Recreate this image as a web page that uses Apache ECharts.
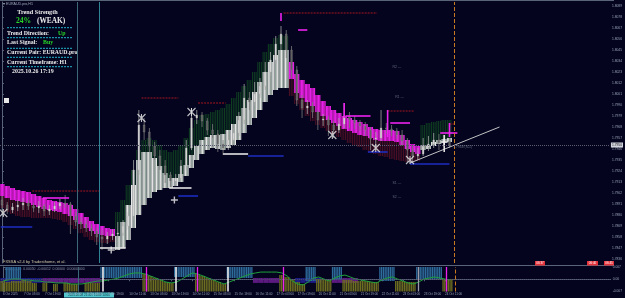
<!DOCTYPE html>
<html>
<head>
<meta charset="utf-8">
<title>EURAUD.pro H1</title>
<script src="https://cdn.jsdelivr.net/npm/echarts@6.0.0/dist/echarts.min.js"></script>
<style>
  html, body { margin: 0; padding: 0; background: #04041f; }
  #chart { width: 625px; height: 298px; }
</style>
</head>
<body>
<div id="chart"></div>
<script>
// prices are in pips (1.7950 -> 17950), one sample every 4 H1 bars
const barsPerSample = 4;

const openP = [17895,17890,17885,17888,17890,17892,17889,17887,17889,17884,
  17886,17889,17892,17891,17879,17873,17871,17867,17864,17858,
  17856,17859,17861,17862,17869,17879,17925,17970,17963,17949,
  17939,17929,17920,17914,17917,17929,17947,17977,17980,17974,
  17965,17961,17951,17947,17955,17962,17975,17997,17993,18001,
  18009,18023,18035,18051,18061,18045,18025,17995,17987,17989,
  17983,17975,17976,17970,17965,17971,17979,17975,17972,17969,
  17965,17956,17957,17967,17966,17964,17960,17954,17945,17939,
  17941,17948,17951,17955,17952,17954];
const closeP = [17890,17885,17888,17890,17892,17889,17887,17889,17884,17886,
  17889,17892,17891,17879,17873,17871,17867,17864,17858,17856,
  17859,17861,17862,17869,17879,17925,17970,17963,17949,17939,
  17929,17920,17914,17917,17929,17947,17977,17980,17974,17965,
  17961,17951,17947,17955,17962,17975,17997,17993,18001,18009,
  18023,18035,18051,18061,18045,18025,17995,17987,17989,17983,
  17975,17976,17970,17965,17971,17979,17975,17972,17969,17965,
  17956,17957,17967,17966,17964,17960,17954,17945,17939,17941,
  17948,17951,17955,17952,17954,17950];
const highP = [17899,17893,17892,17895,17897,17895,17892,17894,17891,17890,
  17893,17896,17900,17893,17883,17878,17875,17871,17867,17865,
  17863,17866,17873,17875,17883,17935,17985,17977,17967,17953,
  17945,17935,17923,17921,17935,17955,17987,17985,17983,17977,
  17971,17965,17955,17963,17967,17983,18011,18003,18013,18017,
  18033,18043,18059,18069,18065,18049,18029,18000,17995,17993,
  17985,17981,17979,17974,17977,17992,17983,17979,17975,17973,
  17968,17963,17985,17972,17970,17967,17965,17957,17949,17947,
  17957,17959,17962,17961,17960,17957];
const lowP = [17880,17881,17882,17884,17885,17885,17883,17882,17879,17880,
  17883,17886,17887,17861,17869,17866,17863,17859,17850,17845,
  17851,17855,17857,17859,17865,17875,17920,17955,17943,17935,
  17925,17912,17908,17910,17913,17925,17945,17971,17968,17960,
  17957,17943,17940,17945,17953,17959,17971,17985,17989,17997,
  18005,18019,18031,18045,18037,18017,17989,17977,17981,17977,
  17965,17969,17959,17957,17962,17967,17967,17966,17964,17959,
  17945,17949,17954,17961,17959,17956,17949,17933,17933,17935,
  17939,17944,17947,17945,17948,17947];

// trend ribbon: outer edge, inner edge, other outer edge; 1 = up, -1 = down
const bandTop = [17911,17909,17907,17905,17904,17903,17901,17899,17897,17895,
  17894,17893,17892,17890,17886,17882,17878,17874,17871,17869,
  17867,17866,17883,17895,17910,17925,17945,17955,17957,17955,
  17950,17945,17943,17945,17950,17957,17967,17975,17980,17981,
  17983,17985,17987,17991,17997,18003,18009,18015,18023,18033,
  18043,18051,18057,18060,18059,18033,18021,18015,18011,18007,
  18000,17994,17989,17985,17982,17979,17977,17975,17973,17971,
  17968,17966,17965,17965,17965,17964,17960,17955,17951,17949,
  17970,17972,17973,17974,17975,17975];
const bandMid = [17899,17897,17895,17894,17893,17892,17890,17888,17886,17885,
  17884,17883,17881,17879,17875,17871,17867,17864,17861,17860,
  17859,17859,17859,17873,17890,17910,17935,17943,17943,17937,
  17929,17922,17917,17917,17921,17930,17940,17949,17955,17958,
  17960,17960,17961,17965,17971,17979,17987,17995,18003,18013,
  18023,18033,18040,18045,18045,18016,18002,17997,17993,17989,
  17983,17979,17975,17972,17969,17966,17964,17962,17960,17959,
  17957,17955,17954,17954,17954,17953,17950,17946,17943,17941,
  17950,17950,17953,17955,17956,17957];
const bandBot = [17887,17883,17881,17879,17878,17878,17877,17877,17877,17877,
  17876,17875,17873,17870,17866,17862,17858,17855,17853,17852,
  17852,17853,17845,17847,17855,17867,17880,17890,17897,17903,
  17905,17907,17907,17909,17913,17919,17927,17935,17941,17945,
  17947,17946,17945,17947,17950,17955,17962,17970,17977,17985,
  17993,18000,18005,18007,18007,17999,17991,17985,17979,17974,
  17970,17967,17964,17961,17958,17955,17952,17950,17948,17945,
  17943,17941,17939,17938,17936,17935,17934,17933,17933,17934,
  17945,17946,17949,17951,17952,17953];
const trend = [-1,-1,-1,-1,-1,-1,-1,-1,-1,-1,
  -1,-1,-1,-1,-1,-1,-1,-1,-1,-1,
  -1,-1,1,1,1,1,1,1,1,1,
  1,1,1,1,1,1,1,1,1,1,
  1,1,1,1,1,1,1,1,1,1,
  1,1,1,1,1,-1,-1,-1,-1,-1,
  -1,-1,-1,-1,-1,-1,-1,-1,-1,-1,
  -1,-1,-1,-1,-1,-1,-1,-1,-1,-1,
  1,1,1,1,1,1];

// signal segments (bar index, pips); kind 0 stop, 1 entry, 2 exit, 3 target, 4 trendline
const sigBar1 = [214,106,149,23,31,74,127,134,168,187,-1,225,261,293,295,278,310,333,340,310,212,260,293,340,336];
const sigPip1 = [18082,17997,17992,17904,17897,17847,17907,17899,17941,17939,17868,18065,17979,17984,17972,17943,17931,17962,17971,17932,18082,17992,17985,17972,17960];
const sigBar2 = [285,134,170,74,51,94,144,149,187,214,23,232,280,313,310,293,340,346,344,378,212,260,293,340,336];
const sigPip2 = [18082,17997,17992,17904,17897,17847,17907,17899,17941,17939,17868,18065,17979,17984,17972,17943,17931,17962,17971,17968,18074,17977,17958,17958,17943];
const sigKind = [0,0,0,0,1,2,2,3,2,3,3,1,1,0,1,3,3,1,0,4,1,1,1,1,2];

const crossBar = [1,106,144,251,284,310];
const crossPip = [17882,17977,17983,17960,17947,17935];
const plusBar = [83,131,336];
const plusPip = [17845,17895,17953];

const levelBar = [300,302,300,300,350];
const levelPip = [18028,17998,17912,17898,17948];
const levelText = ['R2 —','R1 —','S1 —','S2 —','1.7948 (S-1)'];

// oscillator pane
const oscLine = [-1.0,-0.4,0.1,0.1,-0.4,-0.4,-1.0,-1.0,-1.6,-1.6,
  -2.1,-2.1,-2.1,-2.7,-2.7,-2.7,-2.1,-1.6,-1.0,-1.0,
  -0.4,0.1,0.7,1.9,3.0,3.6,3.6,3.0,1.9,0.7,
  -0.4,-1.6,-2.1,-1.6,0.1,1.9,3.6,3.0,1.9,0.7,
  -0.4,-1.6,-2.7,-1.6,-0.4,0.7,1.9,3.0,3.6,4.1,
  4.1,4.1,4.1,3.6,1.9,-1.0,-2.7,-3.3,-1.6,0.7,
  1.3,0.1,-1.0,0.7,1.9,2.4,1.3,0.1,-0.4,-1.0,
  -1.6,-2.1,-0.4,0.7,1.3,0.1,-1.0,-2.1,-2.7,-1.6,
  0.1,0.7,1.3,0.7,0.1,-0.4];
const blueLvl = [null,-0.4,-0.4,-0.4,null,null,null,null,null,null,
  null,null,null,null,null,null,null,null,null,0.7,
  0.7,0.7,0.7,0.7,0.7,0.7,0.7,null,null,null,
  null,null,null,1.3,1.3,1.3,1.3,null,null,null,
  null,null,null,0.7,0.7,0.7,0.7,0.7,null,null,
  null,null,null,null,null,null,null,null,-1.0,-1.0,
  null,null,null,-0.4,-0.4,null,null,null,null,null,
  null,null,-1.0,-1.0,-1.0,null,null,null,null,0.1,
  0.1,0.1,0.1,0.1,null,null];
const oliveLvl = [-1.0,-1.6,-1.0,-1.0,-0.4,-1.0,-2.1,null,-2.1,null,
  -2.7,null,-2.1,-2.7,-2.7,null,-2.1,-2.1,-2.1,null,
  null,null,null,null,null,null,null,3.0,1.9,0.7,
  -0.4,-1.6,-2.1,null,null,null,null,3.0,1.9,0.7,
  -0.4,-1.6,-2.7,null,null,null,null,null,null,null,
  null,null,null,2.4,1.3,-0.4,-1.6,-2.7,null,null,
  0.1,0.1,-0.4,null,null,-0.4,-0.4,-1.0,-1.0,-1.0,
  -1.6,-1.6,null,null,null,-1.0,-1.0,-1.6,-1.6,null,
  null,null,null,null,0.1,0.1];
// 0 none, 1 navy, 2 purple strip around the zero line
const midBand = [1,1,1,1,1,1,1,1,2,2,
  2,2,2,2,2,2,2,2,2,0,
  0,0,0,0,0,0,0,0,0,0,
  0,0,0,0,0,0,0,0,0,0,
  0,0,0,0,0,0,0,0,2,2,
  2,2,2,0,0,0,1,1,1,1,
  1,0,0,2,2,2,2,2,0,0,
  0,0,0,0,0,0,0,0,0,0,
  0,0,0,0,0,0];
const subSigBar = [75.5,109,131,148,171,213,316,337];
const subSigKind = ['w','m','w','m','w','m','g','m'];

const labelBars = [0,16,32,48,64,80,96,112,128,144,160,176,192,208,224,240,256,272,288,304,320,336];
const timeLabels = ['6 Oct 2025','7 Oct 03:00','7 Oct 19:00','8 Oct 11:00','9 Oct 03:00','9 Oct 19:00',
  '10 Oct 11:00','13 Oct 03:00','13 Oct 19:00','14 Oct 11:00','15 Oct 03:00','15 Oct 19:00',
  '16 Oct 11:00','17 Oct 03:00','17 Oct 19:00','20 Oct 11:00','21 Oct 03:00','21 Oct 19:00',
  '22 Oct 11:00','23 Oct 03:00','23 Oct 19:00','24 Oct 11:00'];
const priceTicks = [18089,18078,18067,18056,18045,18034,18023,18012,18001,17990,17979,17968,
  17957,17946,17935,17924,17913,17902,17891,17880,17869,17858,17847,17836];
const subTicks = [7, 0, -7];
const subTickLabels = ['0.007', '0.00', '-0.007'];

const axisCol = '#5a6478';
const labelCol = '#9aa4b8';
const sigStyle = [
  { stroke: '#a3161e', lineWidth: 1, lineDash: [2, 1] },
  { stroke: '#ee22ee', lineWidth: 1.6 },
  { stroke: '#e4e4e4', lineWidth: 1.6 },
  { stroke: '#1c2cc0', lineWidth: 1.6 },
  { stroke: '#d8d8d8', lineWidth: 0.9 }
];
const subSigCol = { w: '#e8e8e8', m: '#ee22ee', g: '#9a9aa8' };

const chart = echarts.init(document.getElementById('chart'));

function renderBand(params, api) {
  const b = api.value(0);
  const top = api.coord([b, api.value(1)]);
  const mid = api.coord([b, api.value(2)]);
  const bot = api.coord([b, api.value(3)]);
  const up = api.value(4) > 0;
  const w = api.size([barsPerSample, 0])[0];
  const x0 = top[0] - w / 2;
  const kids = [];
  for (let k = 0; k < 3; k++) {
    kids.push({ type: 'rect',
      shape: { x: x0 + k * w / 3, y: top[1], width: w / 3 * 0.6, height: bot[1] - top[1] },
      style: { fill: up ? '#0f3d20' : '#4c1024' } });
  }
  const y0 = up ? mid[1] : top[1];
  const y1 = up ? bot[1] : mid[1];
  for (let k = 0; k < 4; k++) {
    kids.push({ type: 'rect',
      shape: { x: x0 + k * w / 4, y: y0, width: w / 4 * (up ? 0.8 : 0.95), height: y1 - y0 },
      style: { fill: up ? '#e6e6e6' : '#e61fe6' } });
  }
  return { type: 'group', children: kids };
}

function renderCandle(params, api) {
  const b = api.value(0);
  const o = api.coord([b, api.value(1)]);
  const c = api.coord([b, api.value(2)]);
  const lo = api.coord([b, api.value(3)]);
  const hi = api.coord([b, api.value(4)]);
  const bull = api.value(2) >= api.value(1);
  const bw = 1.6;
  return { type: 'group', children: [
    { type: 'line', shape: { x1: hi[0], y1: hi[1], x2: lo[0], y2: lo[1] },
      style: { stroke: bull ? '#a6a6a6' : '#7a7a7a', lineWidth: 0.8 } },
    { type: 'rect', shape: { x: o[0] - bw / 2, y: Math.min(o[1], c[1]), width: bw,
      height: Math.max(1, Math.abs(o[1] - c[1])) },
      style: { fill: bull ? '#dcdcdc' : '#5a5a5a', stroke: bull ? '#b0b0b0' : '#8a8a8a', lineWidth: 0.4 } }
  ] };
}

function renderSignal(params, api) {
  const i = params.dataIndex;
  const p1 = api.coord([sigBar1[i], sigPip1[i]]);
  const p2 = api.coord([sigBar2[i], sigPip2[i]]);
  return { type: 'line', shape: { x1: p1[0], y1: p1[1], x2: p2[0], y2: p2[1] },
    style: sigStyle[sigKind[i]] };
}

function renderOsc(params, api) {
  const i = params.dataIndex;
  const b = api.value(0);
  const w = api.size([barsPerSample, 0])[0];
  const x0 = api.coord([b, 0])[0] - w / 2;
  const yTop = api.coord([b, 7])[1];
  const yBot = api.coord([b, -7])[1];
  const kids = [];
  if (midBand[i]) {
    const a = api.coord([b, 0.7])[1];
    const c = api.coord([b, -2.1])[1];
    kids.push({ type: 'rect', shape: { x: x0, y: a, width: w, height: c - a },
      style: { fill: midBand[i] === 1 ? '#1c1c82' : '#5c1a80' } });
  }
  for (let k = 0; k < 3; k++) {
    const sx = x0 + k * w / 3;
    if (blueLvl[i] !== null) {
      const yb = api.coord([b, blueLvl[i]])[1];
      kids.push({ type: 'rect', shape: { x: sx, y: yTop, width: w / 3 * 0.75, height: yb - yTop },
        style: { fill: '#2e6c9c' } });
    }
    if (oliveLvl[i] !== null) {
      const yo = api.coord([b, oliveLvl[i]])[1];
      kids.push({ type: 'rect', shape: { x: sx, y: yo, width: w / 3 * 0.75, height: yBot - yo },
        style: { fill: '#6e6e20' } });
    }
  }
  return { type: 'group', children: kids };
}

const bandData = bandTop.map((v, i) => [i * barsPerSample, v, bandMid[i], bandBot[i], trend[i]]);
const candleData = openP.map((v, i) => [i * barsPerSample, v, closeP[i], lowP[i], highP[i]]);
const sigData = sigBar1.map((b, i) => [b, sigPip1[i]]);
const oscData = oscLine.map((v, i) => [i * barsPerSample, v]);
const lastClose = closeP[closeP.length - 1];

function txt(x, y, text, fill, font, align) {
  return { type: 'text', x: x, y: y, silent: true,
    style: { text: text, fill: fill, font: font, align: align || 'left', verticalAlign: 'middle' } };
}
function hline(x1, x2, y, stroke, dash) {
  return { type: 'line', silent: true, shape: { x1: x1, y1: y, x2: x2, y2: y },
    style: { stroke: stroke, lineWidth: 1, lineDash: dash || null } };
}
const serifB = (s) => 'bold ' + s + 'px "Liberation Serif"';

const graphics = [
  hline(0, 614, 0.5, axisCol),
  hline(0, 614, 265.5, axisCol),
  txt(3, 3.5, '▾ EURAUD.pro,H1', '#a0a8b8', '3.6px "Liberation Sans"'),
  txt(37.5, 12.3, 'Trend Strength', '#ececec', serifB(6.2), 'center'),
  txt(16, 20.8, '24%', '#26d626', serifB(7.6)),
  txt(37, 20.8, '(WEAK)', '#ececec', serifB(7.4)),
  hline(7, 73, 27.7, '#22b4c8', [2, 1]),
  txt(7, 33, 'Trend Direction:', '#ececec', serifB(5.9)),
  txt(58, 33, 'Up', '#26d626', serifB(5.9)),
  hline(7, 73, 37.7, '#22b4c8', [2, 1]),
  txt(7, 42.8, 'Last Signal:', '#ececec', serifB(5.9)),
  txt(43, 42.8, 'Buy', '#26d626', serifB(5.9)),
  hline(7, 73, 48.3, '#22b4c8', [2, 1]),
  txt(7, 52.8, 'Current Pair: EURAUD.pro', '#ececec', serifB(5.8)),
  hline(7, 73, 57.3, '#22b4c8', [2, 1]),
  txt(7, 62.3, 'Current Timeframe: H1', '#ececec', serifB(5.8)),
  hline(7, 73, 66.7, '#22b4c8', [2, 1]),
  txt(12, 71.8, '2025.10.26 17:19', '#ececec', serifB(5.9)),
  { type: 'rect', silent: true, shape: { x: 4, y: 98, width: 5, height: 5 }, style: { fill: '#e8e8e8' } },
  txt(3, 262, 'FXSSA v2.4 by Tradesthome, et al.', '#d4cca4', '4px "Liberation Sans"'),
  txt(3, 269.5, '(1,1,4,5,1,2)  0.00050  -0.00012  0.00000  0.00000000', '#8e96a8', '3.4px "Liberation Sans"'),
  { type: 'rect', silent: true, shape: { x: 535, y: 261, width: 10, height: 4.5 }, style: { fill: '#e4323a' } },
  txt(540, 263.3, '06:37', '#ffffff', '3px "Liberation Sans"', 'center'),
  { type: 'rect', silent: true, shape: { x: 587, y: 261, width: 11, height: 4.5 }, style: { fill: '#e4323a' } },
  txt(592.5, 263.3, '06:40', '#ffffff', '3px "Liberation Sans"', 'center'),
  { type: 'rect', silent: true, shape: { x: 604, y: 261, width: 10, height: 4.5 }, style: { fill: '#e4323a' } },
  txt(609, 263.3, '06:45', '#ffffff', '3px "Liberation Sans"', 'center'),
  { type: 'rect', silent: true, shape: { x: 64, y: 292.5, width: 50, height: 5 }, style: { fill: '#52c4cc' } },
  txt(89, 295, '2025.10.08 21:00 / 10.09 14:00', '#0c3440', '3px "Liberation Sans"', 'center')
];

const vLine = (x, color, type, width) => ({ xAxis: x, lineStyle: { color: color, type: type || 'solid', width: width || 1 } });

const option = {
  backgroundColor: '#04041f',
  animation: false,
  graphic: graphics,
  grid: [
    { left: 0, right: 11, top: 2, bottom: 35 },
    { left: 0, right: 11, top: 267, bottom: 6.5 }
  ],
  xAxis: [
    { type: 'value', gridIndex: 0, min: -1.5, max: 461.9, show: false },
    { type: 'value', gridIndex: 1, min: -1.5, max: 461.9,
      axisLine: { show: true, lineStyle: { color: axisCol } },
      splitLine: { show: false },
      axisTick: { show: true, customValues: labelBars, length: 2, lineStyle: { color: axisCol } },
      axisLabel: { customValues: labelBars, align: 'left', margin: 1.5, fontSize: 3,
        fontFamily: 'Liberation Sans', color: labelCol,
        formatter: (v) => timeLabels[labelBars.indexOf(v)] || '' } }
  ],
  yAxis: [
    { type: 'value', gridIndex: 0, position: 'right', min: 17832, max: 18093,
      axisLine: { show: true, lineStyle: { color: axisCol } },
      splitLine: { show: false },
      axisTick: { show: true, customValues: priceTicks, length: 2, lineStyle: { color: axisCol } },
      axisLabel: { customValues: priceTicks, margin: 2, fontSize: 3.3, fontFamily: 'Liberation Sans',
        color: labelCol, formatter: (v) => (v / 10000).toFixed(4) } },
    { type: 'value', gridIndex: 1, position: 'right', min: -7, max: 7,
      axisLine: { show: true, lineStyle: { color: axisCol } },
      splitLine: { show: false },
      axisTick: { show: true, customValues: subTicks, length: 2, lineStyle: { color: axisCol } },
      axisLabel: { customValues: subTicks, margin: 2, fontSize: 3.3, fontFamily: 'Liberation Sans',
        color: labelCol, formatter: (v) => subTickLabels[subTicks.indexOf(v)] || '' } }
  ],
  series: [
    { type: 'custom', name: 'ribbon', xAxisIndex: 0, yAxisIndex: 0, z: 1,
      renderItem: renderBand, encode: { x: 0, y: [1, 2, 3] }, data: bandData },
    { type: 'custom', name: 'candles', xAxisIndex: 0, yAxisIndex: 0, z: 3,
      renderItem: renderCandle, encode: { x: 0, y: [1, 2, 3, 4] }, data: candleData },
    { type: 'custom', name: 'signals', xAxisIndex: 0, yAxisIndex: 0, z: 4,
      renderItem: renderSignal, encode: { x: 0, y: 1 }, data: sigData },
    { type: 'scatter', name: 'cross', xAxisIndex: 0, yAxisIndex: 0, z: 5,
      symbol: 'path://M0,0L10,10M10,0L0,10M5,0L5,10', symbolSize: 8,
      itemStyle: { color: 'rgba(0,0,0,0)', borderColor: '#f0f0f0', borderWidth: 1.1 },
      data: crossBar.map((b, i) => [b, crossPip[i]]),
      markLine: { silent: true, symbol: ['none', 'none'], label: { show: false },
        data: [
          vLine(57.4, '#3c6878'),
          vLine(74, '#2e8494'),
          vLine(344, '#c8781e', 'dashed'),
          { yAxis: lastClose, lineStyle: { color: '#5c5c70', type: 'dotted', width: 1 },
            label: { show: true, position: 'end', distance: 1, formatter: (lastClose / 10000).toFixed(4),
              backgroundColor: '#d4d6de', color: '#10101a', fontSize: 3.3, padding: [1, 1],
              fontFamily: 'Liberation Sans' } }
        ] } },
    { type: 'scatter', name: 'plus', xAxisIndex: 0, yAxisIndex: 0, z: 5,
      symbol: 'path://M5,0L5,10M0,5L10,5', symbolSize: 7,
      itemStyle: { color: 'rgba(0,0,0,0)', borderColor: '#f0f0f0', borderWidth: 1.4 },
      data: plusBar.map((b, i) => [b, plusPip[i]]) },
    { type: 'scatter', name: 'levels', xAxisIndex: 0, yAxisIndex: 0, z: 5, symbolSize: 0,
      data: levelBar.map((b, i) => ({ value: [b, levelPip[i]], label: { formatter: levelText[i] } })),
      label: { show: true, position: 'inside', fontSize: 3.4, color: '#7c8296', fontFamily: 'Liberation Sans' } },
    { type: 'custom', name: 'histogram', xAxisIndex: 1, yAxisIndex: 1, z: 1,
      renderItem: renderOsc, encode: { x: 0, y: 1 }, data: oscData },
    { type: 'line', name: 'osc', xAxisIndex: 1, yAxisIndex: 1, z: 3, data: oscData,
      symbol: 'none', lineStyle: { color: '#1fa03a', width: 1 },
      markLine: { silent: true, symbol: ['none', 'none'], label: { show: false },
        data: [{ yAxis: 0, lineStyle: { color: '#4a4a66', type: 'dotted', width: 1 } }]
          .concat(subSigBar.map((b, i) => vLine(b, subSigCol[subSigKind[i]], 'solid', subSigKind[i] === 'w' ? 1.6 : 1.3)))
          .concat([vLine(57.4, '#3c6878'), vLine(344, '#c8781e', 'dashed')]) } }
  ]
};
chart.setOption(option);
</script>
</body>
</html>
